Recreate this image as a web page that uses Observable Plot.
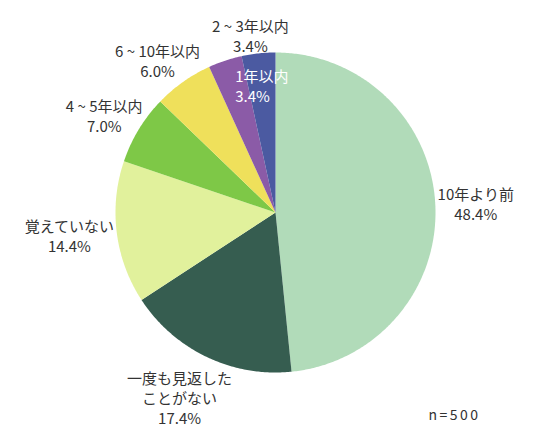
<!DOCTYPE html>
<html><head><meta charset="utf-8">
<script src="https://cdn.jsdelivr.net/npm/d3@7"></script>
<script src="https://cdn.jsdelivr.net/npm/@observablehq/plot@0.6"></script>
<style>
html,body{margin:0;padding:0;background:#fff;}
#chart svg{display:block;}
#chart svg > g:last-of-type text{letter-spacing:2.5px;}
</style></head>
<body><div id="chart"></div>
<script>
const categories = ["10年より前","一度も見返したことがない","覚えていない","4 ~ 5年以内","6 ~ 10年以内","2 ~ 3年以内","1年以内"];
const labelLines = [["10年より前"],["一度も見返した","ことがない"],["覚えていない"],["4 ~ 5年以内"],["6 ~ 10年以内"],["2 ~ 3年以内"],["1年以内"]];
const values = [48.4, 17.4, 14.4, 7.0, 6.0, 3.4, 3.4];
const colors = ["#b1dbb9","#365d50","#e1f19c","#7ec847","#efe05b","#8b5ba7","#4b5aa1"];
const note = "n=500";

const W = 536, H = 435, CX = 275, CY = 212, R = 160;
const FONT = '"Noto Sans CJK JP","Noto Sans",sans-serif';
const FS = 15, LH = 20;

const ctx = document.createElement("canvas").getContext("2d");
ctx.font = `${FS}px ${FONT}`;
const tw = s => ctx.measureText(s).width;

const pie = d3.pie().sort(null).value(d => d)(values);

// slice outlines (pixel units relative to pie centre, y downward)
const slicePts = [];
pie.forEach((a, i) => {
  const n = Math.max(4, Math.ceil((a.endAngle - a.startAngle) / 0.01));
  slicePts.push({cat: categories[i], x: 0, y: 0});
  for (let k = 0; k <= n; k++) {
    const t = a.startAngle + (a.endAngle - a.startAngle) * k / n;
    slicePts.push({cat: categories[i], x: R * Math.sin(t), y: -R * Math.cos(t)});
  }
});

// labels
const labels = [];
pie.forEach((a, i) => {
  const m = (a.startAngle + a.endAngle) / 2;
  const ux = Math.sin(m), uy = -Math.cos(m);
  const lines = [...labelLines[i], values[i].toFixed(1) + "%"];
  const w = Math.max(...lines.map(tw));
  const h = lines.length * LH;
  const inside = i === values.length - 1;
  let x, y;
  if (inside) {
    x = 0.8 * R * ux - tw(labelLines[i][0]) / 2; y = 0.8 * R * uy;
  } else {
    const gap = 6 + 10 * Math.max(0, uy);
    x = (R + gap) * ux + (w / 2) * ux * 0.9;
    y = (R + gap) * uy + (h / 2) * uy;
  }
  labels.push({text: lines.join("\n"), x, y, w, h, inside});
});
// simple overlap resolution for outer labels (push later label rightwards)
for (let i = 1; i < labels.length; i++) {
  const a = labels[i - 1], b = labels[i];
  if (a.inside || b.inside) continue;
  const ox = (a.w / 2 + b.w / 2 + 12) - Math.abs(b.x - a.x);
  const oy = (a.h / 2 + b.h / 2) - Math.abs(b.y - a.y);
  if (ox > 0 && oy > 0) b.x += ox;
}

const chart = Plot.plot({
  width: W, height: H,
  margin: 0,
  x: {domain: [-CX, W - CX], axis: null},
  y: {domain: [-CY, H - CY], reverse: true, axis: null},
  color: {domain: categories, range: colors},
  style: {fontFamily: FONT, background: "#fff"},
  marks: [
    Plot.line(slicePts, {x: "x", y: "y", z: "cat", fill: "cat", stroke: "none", curve: "linear"}),
    Plot.text(labels.filter(d => !d.inside), {x: "x", y: "y", text: "text", textAnchor: "middle",
      fontSize: FS, lineHeight: LH / FS, fill: "#333"}),
    Plot.text(labels.filter(d => d.inside), {x: "x", y: "y", text: "text", textAnchor: "start",
      fontSize: FS, lineHeight: LH / FS, fill: "#fff"}),
    Plot.text([note], {text: d => d, frameAnchor: "bottom-right", dx: -82, dy: -16,
      fontSize: 14, fill: "#333", textAnchor: "middle"})
  ]
});
document.getElementById("chart").append(chart);
</script>
</body></html>
